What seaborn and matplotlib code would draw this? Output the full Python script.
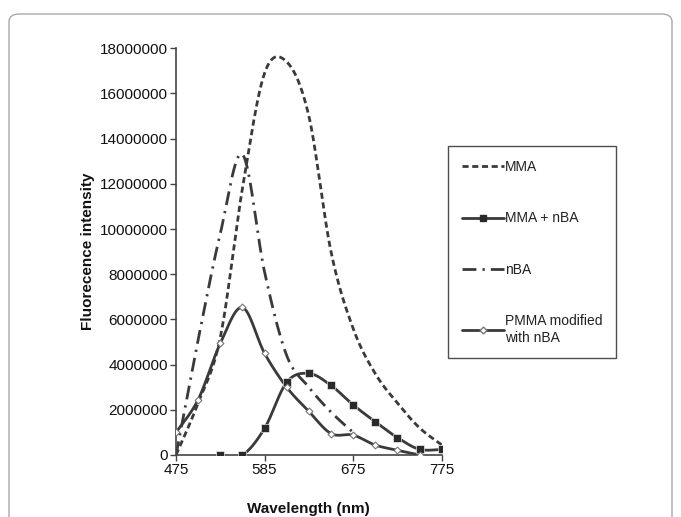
import numpy as np
import pandas as pd
import seaborn as sns
import matplotlib
matplotlib.use("Agg")
import matplotlib.pyplot as plt
from matplotlib.patches import FancyBboxPatch

# wavelength categories (Excel-style category axis), labels shown at every 4th point
wavelengths = [475, 500, 525, 550, 585, 600, 625, 650, 675, 700, 725, 750, 775]
tick_idx = [0, 4, 8, 12]

# series values (fluorescence intensity), starting index for each
mma = [0, 2.3e6, 5.2e6, 11.8e6, 16.9e6, 17.4e6, 15.0e6, 9.0e6, 5.6e6, 3.6e6, 2.3e6, 1.2e6, 0.45e6]
mma_start = 0
mma_nba = [0, 0, 1.18e6, 3.22e6, 3.61e6, 3.08e6, 2.22e6, 1.47e6, 0.77e6, 0.25e6, 0.25e6]
mma_nba_start = 2
nba = [0, 5.1e6, 9.8e6, 13.3e6, 8.1e6, 4.4e6, 3.0e6, 1.9e6, 1.0e6]
nba_start = 0
pmma = [1.0e6, 2.45e6, 4.94e6, 6.53e6, 4.5e6, 3.0e6, 1.93e6, 0.95e6, 0.88e6, 0.44e6, 0.21e6, 0]
pmma_start = 0


def smooth(xs, ys, n=30):
    # Excel-like smoothed line: Catmull-Rom cubic bezier through the points
    xs = np.asarray(xs, float)
    ys = np.asarray(ys, float)
    px, py = [], []
    m = len(xs)
    for i in range(m - 1):
        i0, i3 = max(i - 1, 0), min(i + 2, m - 1)
        p0 = np.array([xs[i], ys[i]])
        p1 = np.array([xs[i + 1], ys[i + 1]])
        c1 = p0 + (p1 - np.array([xs[i0], ys[i0]])) / 6
        c2 = p1 - (np.array([xs[i3], ys[i3]]) - p0) / 6
        t = np.linspace(0, 1, n)[:, None]
        pts = (1 - t) ** 3 * p0 + 3 * (1 - t) ** 2 * t * c1 + 3 * (1 - t) * t ** 2 * c2 + t ** 3 * p1
        if i > 0:
            pts = pts[1:]
        px.extend(pts[:, 0])
        py.extend(pts[:, 1])
    return np.array(px), np.array(py)


sns.set_theme(style="white")
plt.rcParams['font.family'] = ['Liberation Sans', 'DejaVu Sans']

fig = plt.figure(figsize=(6.81, 5.17), dpi=100)
ax = fig.add_axes([176 / 681, 62 / 517, 265.7 / 681, 406.7 / 517])

col = "#3a3a3a"

series = [
    ("MMA", mma, mma_start, dict(ls=(0, (2.2, 1.3)), lw=2.0), None),
    ("MMA + nBA", mma_nba, mma_nba_start, dict(ls="-", lw=2.0), dict(marker="s", s=28, color="#2a2a2a")),
    ("nBA", nba, nba_start, dict(ls=(0, (5, 2.2, 0.8, 2.2)), lw=2.0), None),
    ("PMMA modified\nwith nBA", pmma, pmma_start, dict(ls="-", lw=2.0),
     dict(marker="D", s=12, color="white", edgecolor="#777777", linewidth=0.8)),
]

handles = []
for name, vals, start, lstyle, mstyle in series:
    xi = np.arange(start, start + len(vals))
    sx, sy = smooth(xi, vals)
    sns.lineplot(x=sx, y=sy, ax=ax, color=col, sort=False, linestyle=lstyle["ls"],
                 linewidth=lstyle["lw"], zorder=2)
    if mstyle is not None:
        df = pd.DataFrame({"x": xi, "y": vals})
        sns.scatterplot(data=df, x="x", y="y", ax=ax, zorder=3, legend=False, **mstyle)
    h, = ax.plot([], [], color=col, linestyle=lstyle["ls"], linewidth=lstyle["lw"],
                 marker=(mstyle["marker"] if mstyle else None),
                 markersize=(5 if mstyle and mstyle["marker"] == "s" else 3.5),
                 markerfacecolor=(mstyle["color"] if mstyle else None),
                 markeredgecolor=(mstyle.get("edgecolor", mstyle["color"]) if mstyle else None))
    handles.append((h, name))

ax.set_xlim(0, len(wavelengths) - 1)
ax.set_ylim(0, 18000000)
ax.set_yticks(np.arange(0, 18000001, 2000000))
ax.set_yticklabels([str(v) for v in range(0, 18000001, 2000000)])
ax.set_xticks(tick_idx)
ax.set_xticklabels([str(wavelengths[i]) for i in tick_idx])

for s in ["top", "right"]:
    ax.spines[s].set_visible(False)
for s in ["left", "bottom"]:
    ax.spines[s].set_color("#444444")
    ax.spines[s].set_linewidth(1.2)
ax.tick_params(axis="both", direction="out", length=4, width=1, color="#444444",
               labelsize=11, labelcolor="#111111", pad=2,
               left=True, bottom=True)

ax.set_xlabel("Wavelength (nm)", fontsize=11, fontweight="bold", color="#111111", labelpad=18)
ax.set_ylabel("Fluorecence intensity", fontsize=11, fontweight="bold", color="#111111", labelpad=3)

leg = fig.legend([h for h, _ in handles], [n for _, n in handles],
                 loc="upper left", bbox_to_anchor=(448 / 681, 1 - 146 / 517),
                 fontsize=10, frameon=True, fancybox=False, borderpad=1.0,
                 labelspacing=2.7, handlelength=3.0, handletextpad=0.1,
                 borderaxespad=0)
leg.get_frame().set_edgecolor("#222222")
leg.get_frame().set_linewidth(1.0)
for t in leg.get_texts():
    t.set_color("#222222")

# outer rounded frame around the figure
frame = FancyBboxPatch((9 / 681, -0.1), 663 / 681, 1.1 - 14 / 517,
                       boxstyle="round,pad=0,rounding_size=0.015",
                       transform=fig.transFigure, facecolor="none",
                       edgecolor="#a8a8a8", linewidth=1.0)
fig.patches.append(frame)

fig.savefig("out.png", dpi=100)
